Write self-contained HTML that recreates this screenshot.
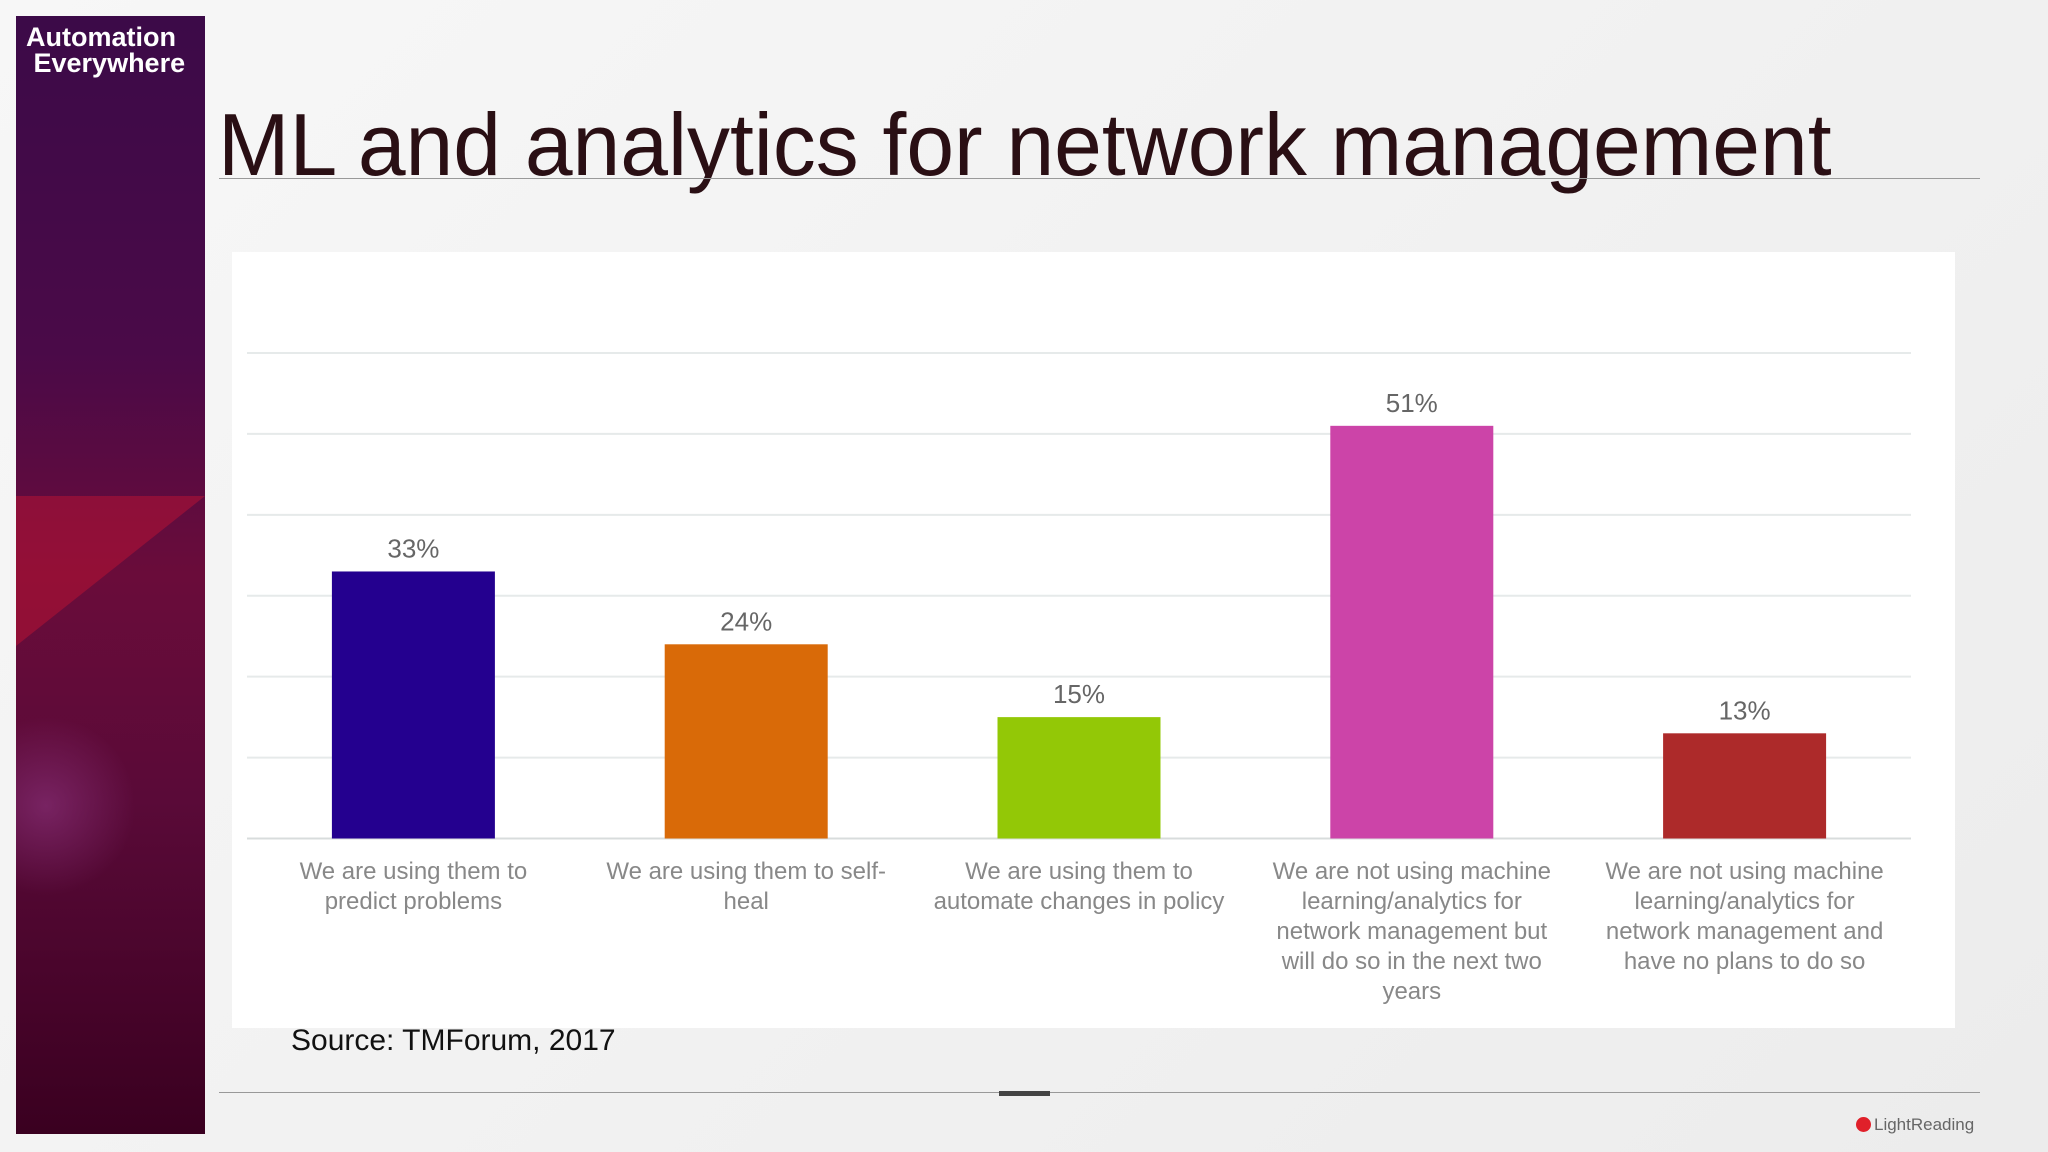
<!DOCTYPE html>
<html><head><meta charset="utf-8"><style>
body{margin:0;width:2048px;height:1152px;background:linear-gradient(135deg,#f7f7f7,#ececec);position:relative;overflow:hidden;font-family:"Liberation Sans",sans-serif}
#side{position:absolute;left:16px;top:16px;width:189px;height:1118px;background:linear-gradient(180deg,#3c0a48 0%,#4a0a48 30%,#6a0c3a 50%,#5a0a38 70%,#3a0020 100%);overflow:hidden}
#side .wedge{position:absolute;left:0;top:480px;width:0;height:0;border-left:189px solid rgba(200,20,50,0.45);border-bottom:150px solid transparent;border-top:0}
#side .glow{position:absolute;left:-60px;top:700px;width:180px;height:180px;border-radius:50%;background:radial-gradient(circle,rgba(150,60,140,0.5),transparent 70%)}
#brand{position:absolute;left:26px;top:24px;color:#fff;font-weight:bold;font-size:27px;line-height:26px}
#title{position:absolute;left:218px;top:101px;font-size:88px;line-height:88px;white-space:nowrap;color:#2a0f14;font-family:"Liberation Sans",sans-serif;transform:scaleX(0.975);transform-origin:left}
.hl{position:absolute;left:219px;width:1761px;height:1px;background:#999}
#panel{position:absolute;left:232px;top:252px;width:1723px;height:776px;background:#fff}
#src{position:absolute;left:291px;top:1024px;font-size:30px;color:#111}
#mark{position:absolute;left:999px;top:1091px;width:51px;height:5px;background:#444}
#lr{position:absolute;left:1856px;top:1115px;font-size:17px;color:#666}
#lr b{display:inline-block;width:15px;height:15px;border-radius:50%;background:#e0202a;vertical-align:-2px;margin-right:3px}
</style></head><body>
<div id="side"><div class="wedge"></div><div class="glow"></div></div>
<div id="brand">Automation<br>&nbsp;Everywhere</div>
<div id="title">ML and analytics for network management</div>
<div class="hl" style="top:178px"></div>
<div id="panel"></div>
<svg id="chart" width="2048" height="1152" style="position:absolute;left:0;top:0"></svg>
<div id="src">Source: TMForum, 2017</div>
<div class="hl" style="top:1092px"></div>
<div id="mark"></div>
<div id="lr"><b></b>LightReading</div>
<script>
const categories=[["We are using them to","predict problems"],["We are using them to self-","heal"],["We are using them to","automate changes in policy"],["We are not using machine","learning/analytics for","network management but","will do so in the next two","years"],["We are not using machine","learning/analytics for","network management and","have no plans to do so"]];
const values=[33,24,15,51,13];
const colors=["#24008f","#d96a08","#93c806","#cc44a8","#ad2a2a"];
const gridTicks=[0,10,20,30,40,50,60];
const svg=document.getElementById('chart');const NS="http://www.w3.org/2000/svg";
const x0=247,x1=1911,yBase=838.5,yTop=353,maxV=60;
const y=v=>yBase-(v/maxV)*(yBase-yTop);
const band=(x1-x0)/categories.length;
function mk(t,a){const e=document.createElementNS(NS,t);for(const k in a)e.setAttribute(k,a[k]);svg.appendChild(e);return e;}
gridTicks.forEach(t=>{const l=mk('line',{x1:x0,x2:x1,y1:y(t),y2:y(t),stroke:t===0?'#d8dcdc':'#e6eaea','stroke-width':2});

});
values.forEach((v,i)=>{const cx=x0+band*(i+0.5),w=163;
const r=mk('rect',{x:cx-w/2,y:y(v),width:w,height:yBase-y(v),fill:colors[i]});


const t=mk('text',{x:cx,y:y(v)-14,'text-anchor':'middle','font-size':26,fill:'#666','font-family':'Liberation Sans, sans-serif'});t.textContent=v+'%';


const g=mk('text',{x:cx,'text-anchor':'middle','font-size':24,fill:'#888','font-family':'Liberation Sans, sans-serif'});


categories[i].forEach((s,j)=>{const ts=document.createElementNS(NS,'tspan');ts.setAttribute('x',cx);ts.setAttribute('y',879+j*30);ts.textContent=s;g.appendChild(ts);});});
</script>
</body></html>
